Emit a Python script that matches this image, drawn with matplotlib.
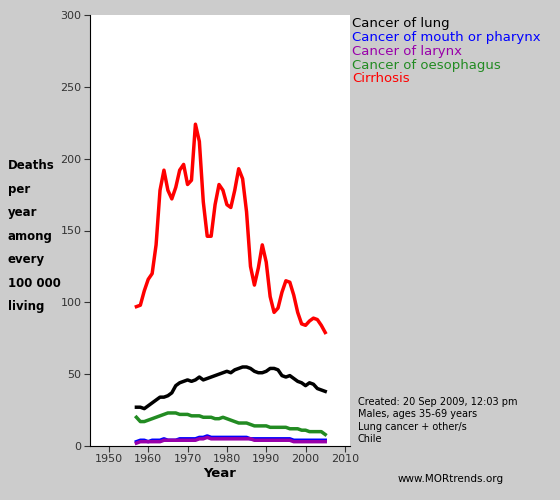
import matplotlib
matplotlib.use("Agg")
import matplotlib.pyplot as plt
import numpy as np

years = list(range(1957, 2006))
cirrhosis = [97,98,108,116,120,140,178,192,178,172,180,192,196,182,185,224,212,170,146,146,168,182,178,168,166,178,193,186,163,125,112,124,140,128,104,93,96,107,115,114,105,93,85,84,87,89,88,84,79]
lung = [27,27,26,28,30,32,34,34,35,37,42,44,45,46,45,46,48,46,47,48,49,50,51,52,51,53,54,55,55,54,52,51,51,52,54,54,53,49,48,49,47,45,44,42,44,43,40,39,38]
oesophagus = [20,17,17,18,19,20,21,22,23,23,23,22,22,22,21,21,21,20,20,20,19,19,20,19,18,17,16,16,16,15,14,14,14,14,13,13,13,13,13,12,12,12,11,11,10,10,10,10,8]
mouth = [3,4,4,3,4,4,4,5,4,4,4,5,5,5,5,5,6,6,7,6,6,6,6,6,6,6,6,6,6,5,5,5,5,5,5,5,5,5,5,5,4,4,4,4,4,4,4,4,4]
larynx = [2,3,3,3,3,3,3,4,4,4,4,4,4,4,4,4,5,5,6,5,5,5,5,5,5,5,5,5,5,5,4,4,4,4,4,4,4,4,4,4,3,3,3,3,3,3,3,3,3]

labels = ["Cancer of lung","Cancer of mouth or pharynx","Cancer of larynx","Cancer of oesophagus","Cirrhosis"]
colors = ["black","blue","#9900aa","#228B22","red"]

fig = plt.figure(figsize=(5.6,5.0), dpi=100, facecolor="#cccccc")
ax = fig.add_axes([90/560, 1-446/500, 260/560, 431/500])
ax.set_facecolor("white")
for data, c in zip([oesophagus, mouth, larynx, lung, cirrhosis], [colors[3], colors[1], colors[2], colors[0], colors[4]]):
    ax.plot(years, data, color=c, lw=2.5)
ax.set_xlim(1945.2, 2011.3)
ax.set_ylim(0, 300)
ax.set_xticks(range(1950, 2011, 10))
ax.set_yticks(range(0, 301, 50))
ax.tick_params(labelsize=8, colors="#333333", length=4, pad=2)
for s in ["top","right"]:
    ax.spines[s].set_visible(False)
ax.set_xlabel("Year", fontsize=9.5, fontweight="bold", labelpad=2)
fig.text(8/560, 1-159/500, "Deaths\nper\nyear\namong\nevery\n100 000\nliving", fontsize=8.5, fontweight="bold", va="top", ha="left", linespacing=2.05)
for i, (l, c) in enumerate(zip(labels, colors)):
    fig.text(352/560, 1-(23+14*i)/500, l, color=c, fontsize=9.5, va="center")
fig.text(358/560, 1-397/500, "Created: 20 Sep 2009, 12:03 pm\nMales, ages 35-69 years\nLung cancer + other/s\nChile", fontsize=7, va="top", linespacing=1.3)
fig.text(398/560, 1-479/500, "www.MORtrends.org", fontsize=7.5, va="center")
fig.savefig("out.png", dpi=100, facecolor=fig.get_facecolor())
